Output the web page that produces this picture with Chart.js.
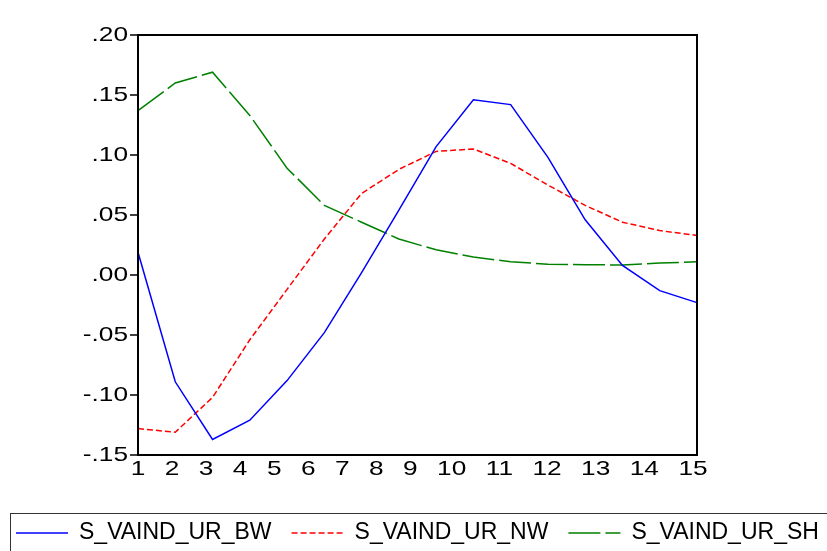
<!DOCTYPE html>
<html>
<head>
<meta charset="utf-8">
<script src="https://cdn.jsdelivr.net/npm/chart.js@4/dist/chart.umd.min.js"></script>
<style>
  html, body { margin: 0; padding: 0; background: #fff; }
  canvas { display: block; }
</style>
</head>
<body>
<canvas id="chart_area" width="827" height="551"></canvas>
<script>
// response horizon (16 observations) and the period labels printed under the axis
const steps = [0, 1, 2, 3, 4, 5, 6, 7, 8, 9, 10, 11, 12, 13, 14, 15];
const periodLabels = ['1', '2', '3', '4', '5', '6', '7', '8', '9', '10', '11', '12', '13', '14', '15'];
const yTicks = [0.20, 0.15, 0.10, 0.05, 0.00, -0.05, -0.10, -0.15];

const bwValues = [0.019, -0.089, -0.137, -0.121, -0.088, -0.048, 0.002, 0.054, 0.107, 0.146, 0.142, 0.098, 0.046, 0.008, -0.013, -0.023];
const nwValues = [-0.128, -0.131, -0.102, -0.054, -0.012, 0.030, 0.068, 0.088, 0.103, 0.105, 0.093, 0.075, 0.058, 0.044, 0.037, 0.033];
const shValues = [0.137, 0.160, 0.169, 0.133, 0.089, 0.058, 0.044, 0.030, 0.021, 0.015, 0.011, 0.009, 0.0086, 0.0083, 0.010, 0.011];

const seriesNames = ['S_VAIND_UR_BW', 'S_VAIND_UR_NW', 'S_VAIND_UR_SH'];

const fontFam = '"Liberation Sans", Arial, sans-serif';
const axisStretch = 1.25;

const fmtTick = (v) => v.toFixed(2).replace('0.', '.');

// axis text is a little wider than the plain font
function wideText(c, t, x, y) {
  c.save();
  c.translate(x, y);
  c.scale(axisStretch, 1);
  c.fillText(t, 0, 0);
  c.restore();
}

// frame, tick marks, axis labels and the boxed legend underneath
const evFrame = {
  id: 'evFrame',
  afterDatasetsDraw(chart) {
    const c = chart.ctx;
    const a = chart.chartArea;
    const ys = chart.scales.y;
    const xs = chart.scales.x;
    c.save();
    c.strokeStyle = '#000';
    c.lineWidth = 2;
    c.strokeRect(a.left, a.top, a.right - a.left, a.bottom - a.top);

    // y ticks + labels
    c.lineWidth = 1.5;
    c.fillStyle = '#000';
    c.font = '21px ' + fontFam;
    c.textAlign = 'right';
    c.textBaseline = 'middle';
    yTicks.forEach(function (v) {
      const py = Math.round(ys.getPixelForValue(v));
      c.beginPath();
      c.moveTo(a.left - 8, py);
      c.lineTo(a.left, py);
      c.stroke();
      wideText(c, fmtTick(v), a.left - 10, py);
    });

    // x labels are laid out with equal spacing between the texts
    c.textAlign = 'center';
    c.textBaseline = 'top';
    const w = periodLabels.map(t => c.measureText(t).width * axisStretch);
    const first = xs.getPixelForValue(0);
    const last = xs.getPixelForValue(steps.length - 1) - 4;
    let halfSum = 0;
    for (let i = 1; i < w.length; i++) halfSum += (w[i - 1] + w[i]) / 2;
    const gap = (last - first - halfSum) / (w.length - 1);
    let cx = first;
    periodLabels.forEach(function (t, i) {
      if (i > 0) cx += (w[i - 1] + w[i]) / 2 + gap;
      wideText(c, t, cx, a.bottom + 4);
    });

    // legend box
    c.lineWidth = 1;
    c.strokeStyle = '#333';
    c.strokeRect(10.5, 513.5, 830, 60);
    c.font = '23px ' + fontFam;
    c.textAlign = 'left';
    c.textBaseline = 'middle';
    let lx = 16;
    const ly = 533;
    chart.data.datasets.forEach(function (ds) {
      c.strokeStyle = ds.borderColor;
      c.lineWidth = 1.5;
      c.setLineDash(ds.borderDash || []);
      c.beginPath();
      c.moveTo(lx, ly);
      c.lineTo(lx + 52, ly);
      c.stroke();
      c.setLineDash([]);
      lx += 63;
      c.fillStyle = '#000';
      c.fillText(ds.label, lx, ly);
      lx += c.measureText(ds.label).width + 20;
    });
    c.restore();
  }
};

const ctx = document.getElementById('chart_area').getContext('2d');
const chart = new Chart(ctx, {
  type: 'line',
  data: {
    labels: steps,
    datasets: [{
      label: seriesNames[0],
      data: bwValues,
      borderColor: '#0000ff',
      borderWidth: 1.5
    }, {
      label: seriesNames[1],
      data: nwValues,
      borderColor: '#ff0000',
      borderWidth: 1.5,
      borderDash: [6, 3]
    }, {
      label: seriesNames[2],
      data: shValues,
      borderColor: '#008000',
      borderWidth: 1.5,
      borderDash: [32, 5]
    }]
  },
  options: {
    responsive: false,
    animation: false,
    events: [],
    layout: { padding: { left: 138, right: 130, top: 35, bottom: 96 } },
    elements: {
      point: { radius: 0 },
      line: { tension: 0, fill: false }
    },
    plugins: {
      legend: { display: false },
      tooltip: { enabled: false }
    },
    scales: {
      x: { type: 'category', display: false, offset: false },
      y: { type: 'linear', display: false, min: -0.15, max: 0.20 }
    }
  },
  plugins: [evFrame]
});
</script>
</body>
</html>
